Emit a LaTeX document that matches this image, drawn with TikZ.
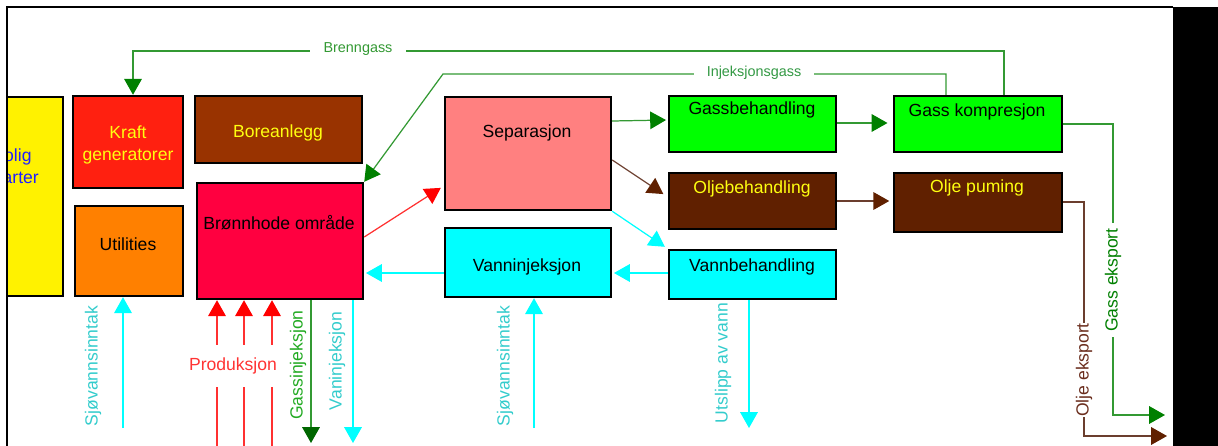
\documentclass[tikz,border=0pt]{standalone}
\usepackage{fontspec}
\setmainfont{Liberation Sans}
\usetikzlibrary{arrows.meta,fit,calc}
\definecolor{kraftc}{HTML}{FF2010}
\definecolor{borec}{HTML}{993300}
\definecolor{utilc}{HTML}{FF8000}
\definecolor{bhc}{HTML}{FF0040}
\definecolor{sepc}{HTML}{FF8080}
\definecolor{greenc}{HTML}{00FF00}
\definecolor{brownc}{HTML}{602000}
\definecolor{cyanc}{HTML}{00FFFF}
\definecolor{ytext}{HTML}{FFFF10}
\definecolor{glinec}{HTML}{339933}
\definecolor{gheadc}{HTML}{008000}
\definecolor{blinec}{HTML}{6B3E2E}
\definecolor{bheadc}{HTML}{602000}
\definecolor{rlinec}{HTML}{FF3030}
\definecolor{cyantext}{HTML}{33CCCC}
\definecolor{redtext}{HTML}{FF3333}
\definecolor{gtext}{HTML}{22AA22}
\definecolor{gtext2}{HTML}{339944}
\definecolor{btext}{HTML}{6B2E1E}
\definecolor{bluetext}{HTML}{2020FF}
\begin{document}
\begin{tikzpicture}[x=0.02cm,y=-0.02cm,
  box/.style={draw=black,line width=1.4pt,inner sep=0pt,rectangle},
  btxt/.style={font=\fontsize{10}{12.8}\selectfont,inner sep=0pt,align=center},
  lbl/.style={font=\fontsize{10}{12}\selectfont,inner sep=1pt},
  small/.style={font=\fontsize{8.2}{10}\selectfont,fill=white,inner ysep=1pt},
  gl/.style={draw=glinec,line width=0.7pt},
  bl/.style={draw=blinec,line width=0.7pt},
  rl/.style={draw=rlinec,line width=0.7pt},
  cl/.style={draw=cyanc,line width=0.7pt},
  gh/.style={-{Triangle[width=10pt,length=9pt,color=gheadc]}},
  brh/.style={-{Triangle[width=10pt,length=9pt,color=bheadc]}},
  rh/.style={-{Triangle[width=10pt,length=9pt,color=red]}},
  ch/.style={-{Triangle[width=10pt,length=9pt,color=cyanc]}}]
\useasboundingbox (0,0) rectangle (1218,446);
% yellow clipped box
\begin{scope}
  \clip (7,0) rectangle (1218,446);
  \node[box,fill=yellow,fit={(-40,97) (63,296)}] (bolig) {};
  \node[btxt,text=bluetext] (boligtxt) at (12,166) {Bolig\\kvarter};
\end{scope}
% boxes
\node[box,fill=kraftc,fit={(73,96) (183,188)}] (kraft) {};
\node[btxt,text=ytext] (krafttxt) at (128,145) {Kraft\\generatorer};
\node[box,fill=borec,fit={(195,96) (362,163)}] (bore) {};
\node[btxt,text=ytext] (boretxt) at (278,133) {Boreanlegg};
\node[box,fill=utilc,fit={(75,206) (183,296)}] (util) {};
\node[btxt] (utiltxt) at (128,244) {Utilities};
\node[box,fill=bhc,fit={(197,183) (363,299)}] (bh) {};
\node[btxt] (bhtxt) at (279,223) {Brønnhode område};
\node[box,fill=sepc,fit={(445,97) (611,210)}] (sep) {};
\node[btxt] (septxt) at (527,133) {Separasjon};
\node[box,fill=greenc,fit={(669,96) (836,152)}] (gb) {};
\node[btxt] (gbtxt) at (752,110) {Gassbehandling};
\node[box,fill=brownc,fit={(669,173) (836,229)}] (ob) {};
\node[btxt,text=ytext] (obtxt) at (752,189) {Oljebehandling};
\node[box,fill=cyanc,fit={(669,250) (836,299)}] (vb) {};
\node[btxt] (vbtxt) at (752,267) {Vannbehandling};
\node[box,fill=cyanc,fit={(445,228) (611,297)}] (vi) {};
\node[btxt] (vitxt) at (527,267) {Vanninjeksjon};
\node[box,fill=greenc,fit={(894,96) (1062,152)}] (gk) {};
\node[btxt] (gktxt) at (977,112) {Gass kompresjon};
\node[box,fill=brownc,fit={(894,173) (1062,232)}] (op) {};
\node[btxt,text=ytext] (optxt) at (977,188) {Olje puming};
% top connectors
\draw[gl,gh] (gk.north -| 1004,0) -- (1004,51) -- (133,51) -- (kraft.north -| 133,0);
\node[small,text=glinec,inner xsep=8pt] (brenngass) at (358,49) {Brenngass};
\draw[gl,gh] (gk.north -| 946,0) -- (946,74) -- (443,74) -- (bh.north east);
\node[small,text=gtext2,inner xsep=7pt] (injgass) at (754,73) {Injeksjonsgass};
% process connectors
\draw[gl,gh,shorten >=1pt] (sep.east |- 0,121) -- (gb.west |- 0,120);
\draw[bl,brh,shorten >=3pt] (sep.east |- 0,160) -- (ob.west |- 0,197);
\draw[cl,ch,shorten >=2pt] (sep.south east) -- (vb.north west);
\draw[rl,rh,shorten >=2pt] (bh.east |- 0,237) -- (sep.west |- 0,186);
\draw[cl,ch,shorten >=1pt] (vi.west |- 0,273) -- (bh.east |- 0,273);
\draw[cl,ch,shorten >=1pt] (vb.west |- 0,273) -- (vi.east |- 0,273);
\draw[gl,gh,shorten >=3pt] (gb.east |- 0,123) -- (gk.west |- 0,123);
\draw[bl,brh,shorten >=2pt] (ob.east |- 0,201) -- (op.west |- 0,201);
% exports
\coordinate (gexp) at (1165,415);
\draw[gl,gh] (gk.east |- 0,124) -- (1113,124) -- (1113,415) -- (gexp);
\node[lbl,rotate=90,fill=white,text=gheadc,inner xsep=3pt] (gexptxt) at (1113,280) {Gass eksport};
\coordinate (oexp) at (1167,436);
\draw[bl,brh] (op.east |- 0,202) -- (1084,202) -- (1084,436) -- (oexp);
\node[lbl,rotate=90,fill=white,text=btext,inner xsep=0pt] (oexptxt) at (1084,370) {Olje eksport};
% bottom connectors
\coordinate (sw1) at (123,428);
\draw[cl,ch] (sw1) -- (util.south -| sw1);
\node[lbl,rotate=90,text=cyantext] (sw1txt) at (93,366) {Sjøvannsinntak};
\coordinate (p1) at (217,446);
\coordinate (p2) at (244,446);
\coordinate (p3) at (272,446);
\draw[rl,rh] (p1) -- (bh.south -| p1);
\draw[rl,rh] (p2) -- (bh.south -| p2);
\draw[rl,rh] (p3) -- (bh.south -| p3);
\node[lbl,fill=white,text=redtext,inner ysep=7.5pt,inner xsep=1pt] (prodtxt) at (233,366) {Produksjon};
\coordinate (gi) at (311,443);
\draw[gl,-{Triangle[width=10pt,length=9pt,color=gheadc!80!black]}] (bh.south -| gi) -- (gi);
\node[lbl,rotate=90,text=gtext] (gitxt) at (298,365) {Gassinjeksjon};
\coordinate (vij) at (353,443);
\draw[cl,ch] (bh.south -| vij) -- (vij);
\node[lbl,rotate=90,text=cyantext] (vijtxt) at (337,361) {Vaninjeksjon};
\coordinate (sw2) at (534,428);
\draw[cl,ch] (sw2) -- (vi.south -| sw2);
\node[lbl,rotate=90,text=cyantext] (sw2txt) at (505,366) {Sjøvannsinntak};
\coordinate (uts) at (749,428);
\draw[cl,ch] (vb.south -| uts) -- (uts);
\node[lbl,rotate=90,text=cyantext] (utstxt) at (723,363) {Utslipp av vann};
% frame
\draw[line width=0.8pt] (7,446) -- (7,7) -- (1173,7);
\fill[black] (1173,7) rectangle (1218,446);
\end{tikzpicture}
\end{document}
